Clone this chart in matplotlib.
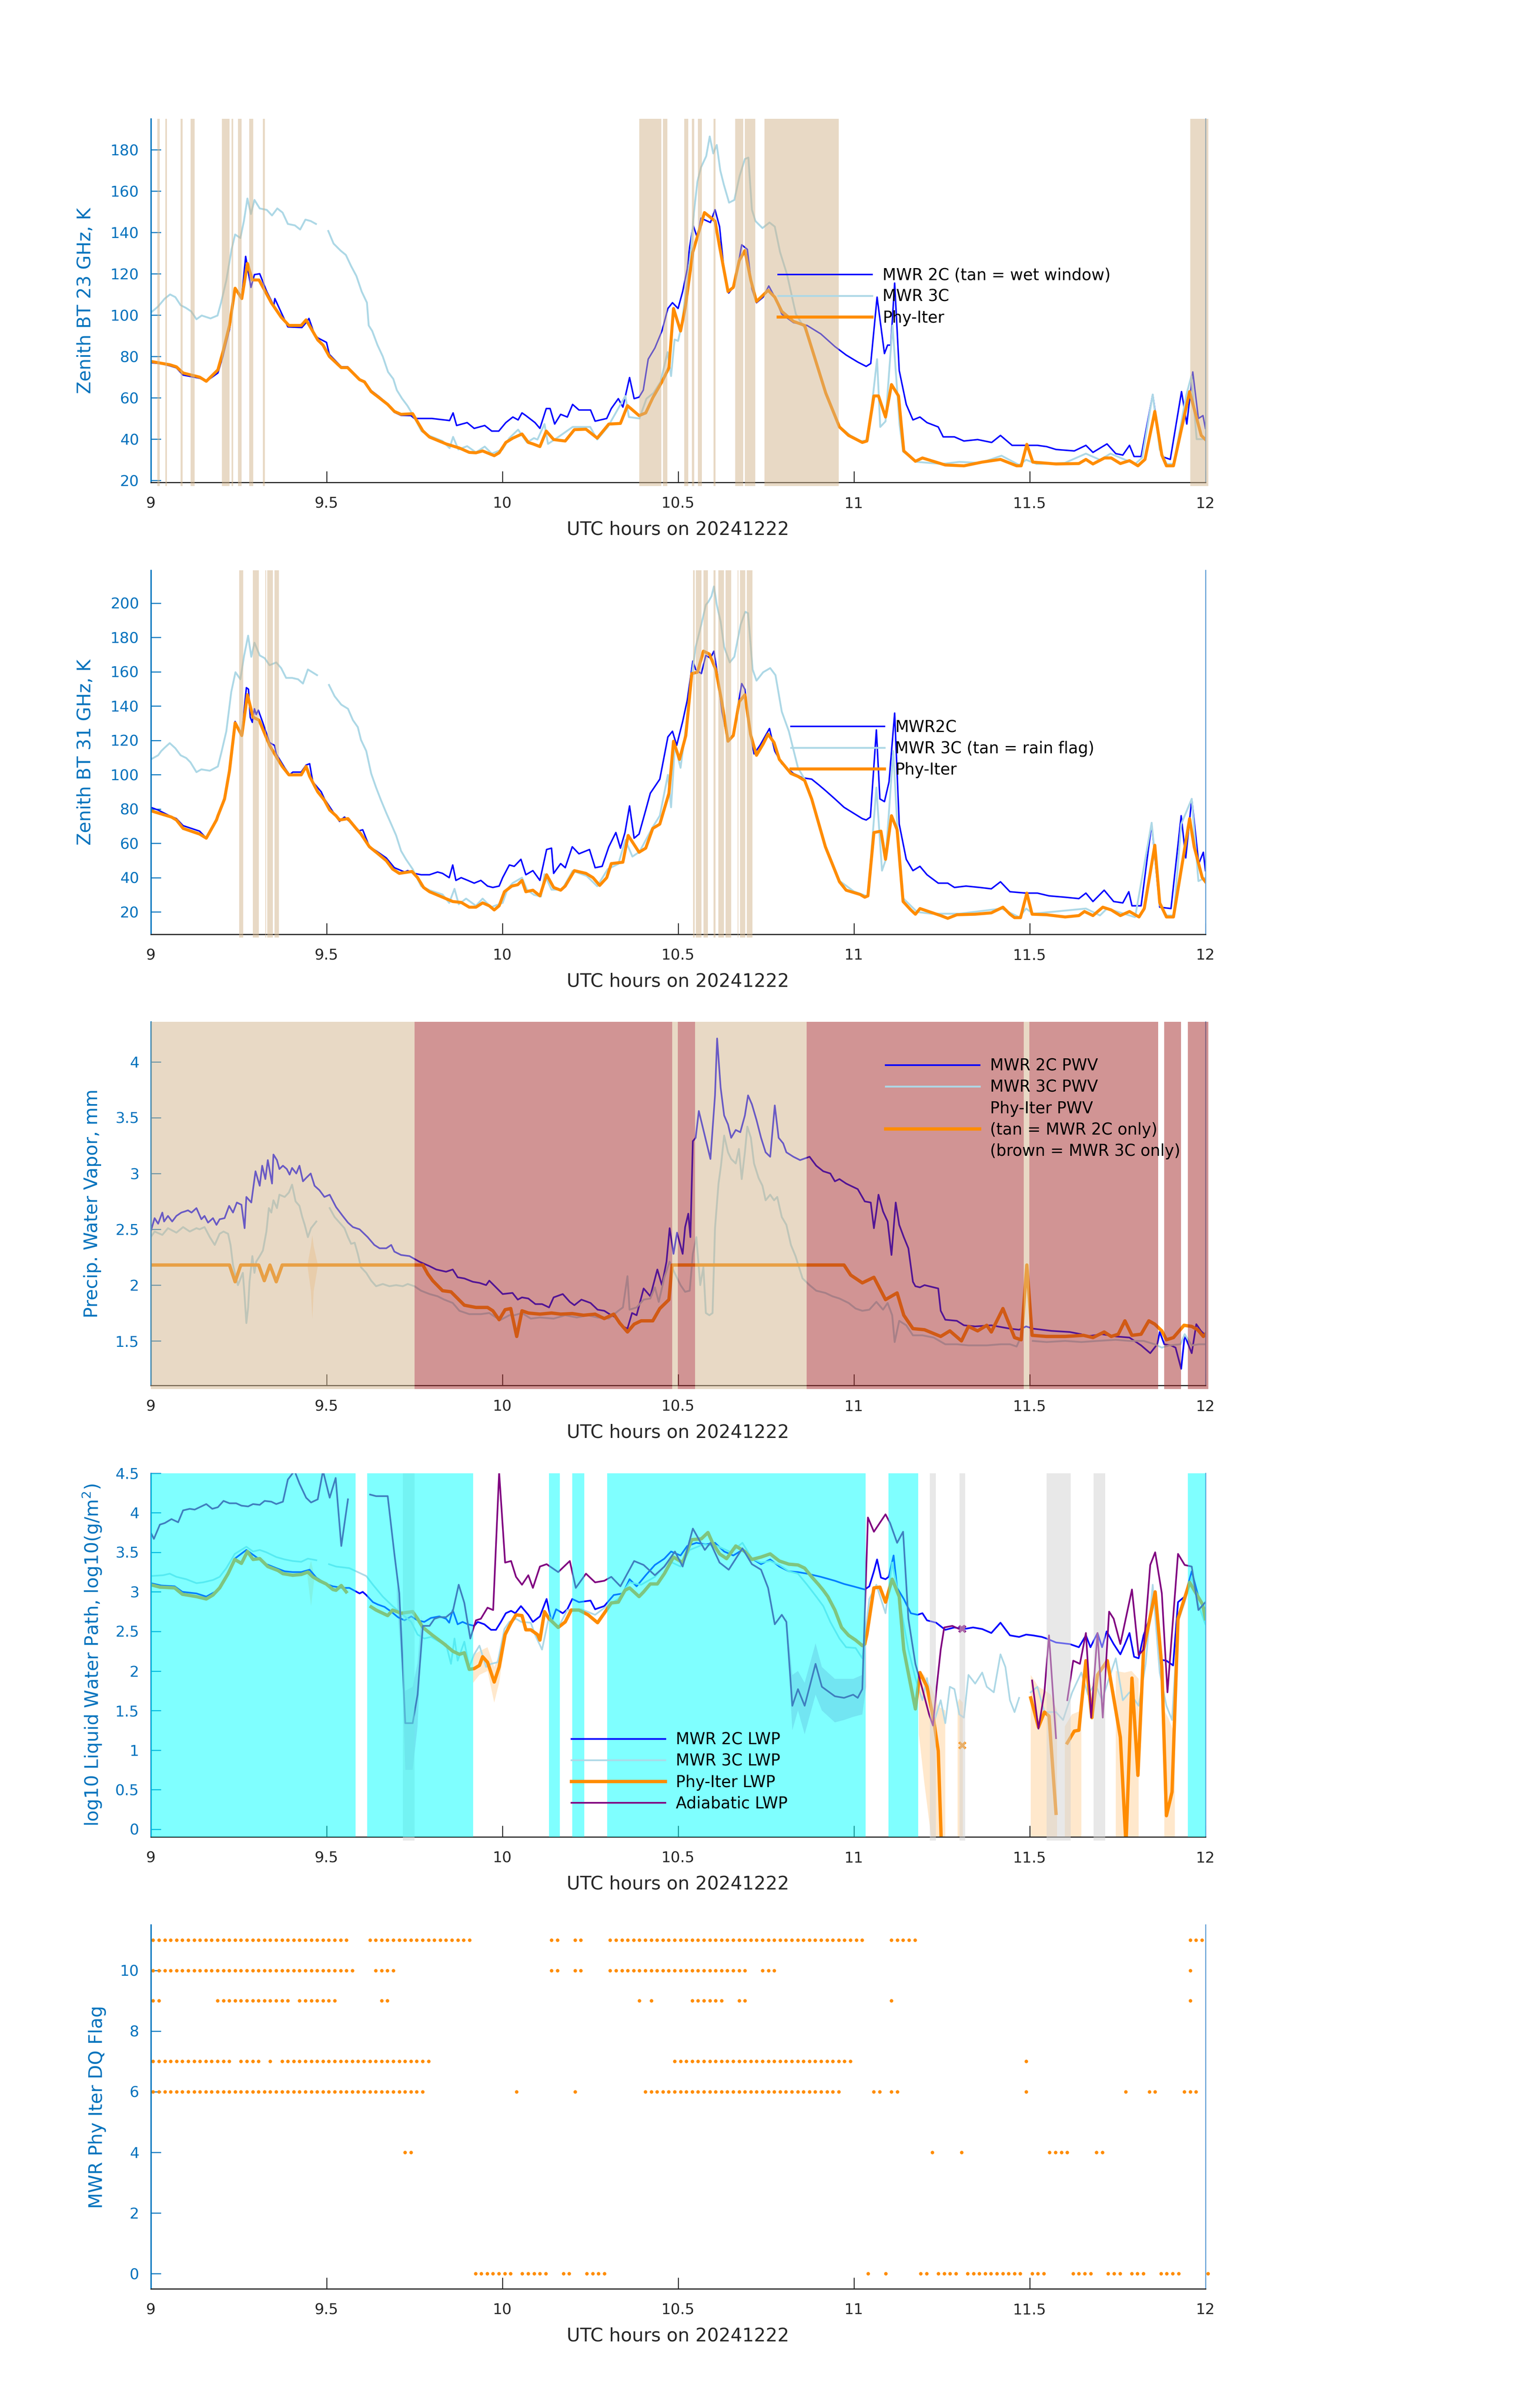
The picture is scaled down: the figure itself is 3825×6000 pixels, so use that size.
import numpy as np
import matplotlib
matplotlib.use("Agg")
import matplotlib.pyplot as plt
from matplotlib.lines import Line2D

nan = np.nan

# shared x axis
xticks = [9, 9.5, 10, 10.5, 11, 11.5, 12]
xticklabels = ["9", "9.5", "10", "10.5", "11", "11.5", "12"]
xlabel_text = "UTC hours on 20241222"

# ---------------- panel 1: zenith BT 23 GHz (hour, K)
bt23_2c = [(9.0,77),(9.03,76.5),(9.054,75.5),(9.073,74.5),(9.092,71),(9.139,69.5),(9.158,68),(9.191,72),(9.205,80),(9.224,93),
    (9.24,113),(9.259,109),(9.27,128.4),(9.285,113.4),(9.295,119.6),(9.31,120),(9.33,111.4),(9.35,104.6),(9.353,108),(9.39,94.3),
    (9.43,94),(9.445,97),(9.45,98.4),(9.465,91),(9.475,89),(9.5,86.8),(9.508,81),(9.542,75),(9.56,75),(9.594,69),
    (9.608,68),(9.627,63.5),(9.65,60.5),(9.674,57),(9.693,53),(9.712,51.5),(9.74,51.4),(9.75,50),(9.8,50),(9.85,49),
    (9.86,52.7),(9.87,46.6),(9.9,48),(9.92,45.2),(9.95,46.6),(9.97,43.9),(9.99,43.9),(10.01,48),(10.03,50.7),(10.045,49.3),
    (10.056,52.7),(10.067,51.4),(10.093,48),(10.107,45.2),(10.125,54.8),(10.136,54.8),(10.149,47.3),(10.166,52),(10.185,50.7),(10.2,56.8),
    (10.218,54.1),(10.251,54.1),(10.264,48.7),(10.297,50),(10.31,54.8),(10.33,59.6),(10.343,55.5),(10.362,69.8),(10.375,59.6),(10.389,60.3),
    (10.401,63.7),(10.415,78.7),(10.434,84.1),(10.454,92.3),(10.471,103.2),(10.484,106),(10.5,103.2),(10.513,111.4),(10.526,122.3),(10.533,133.2),
    (10.543,143.4),(10.555,137.3),(10.565,146.9),(10.592,144.8),(10.605,151),(10.618,142.8),(10.631,121),(10.644,110.7),(10.66,114.1),(10.681,134),
    (10.697,131.8),(10.71,112.7),(10.723,106),(10.742,108.7),(10.758,114.1),(10.775,108.7),(10.795,100.5),(10.828,96.4),(10.867,95),(10.906,90.9),
    (10.946,84.8),(10.978,80.7),(11.011,77.3),(11.035,75.2),(11.048,76.6),(11.066,108.7),(11.087,81.4),(11.096,85.5),(11.105,85.5),(11.116,115.5),
    (11.129,73.2),(11.149,56.8),(11.168,49.3),(11.188,50.7),(11.208,48),(11.24,45.9),(11.254,41.1),(11.286,41.1),(11.313,39.1),(11.352,39.8),
    (11.392,38.4),(11.417,41.8),(11.45,37),(11.483,37),(11.522,37),(11.548,36.4),(11.575,35),(11.627,34.3),(11.66,37),(11.68,33.6),
    (11.72,37.7),(11.745,33),(11.765,32.3),(11.784,37),(11.797,31.6),(11.817,31.6),(11.85,61.6),(11.876,31.6),(11.9,30.2),(11.932,63),
    (11.947,47.3),(11.964,72.5),(11.98,50),(11.993,51.4),(12.0,45.2)]
bt23_3c = [(9.0,101.2),(9.02,104),(9.04,108),(9.055,110),(9.07,108.7),(9.085,104.8),(9.1,103.5),(9.115,101.8),(9.13,98),(9.145,99.8),
    (9.17,98.4),(9.19,99.8),(9.2,106),(9.215,116.8),(9.23,131.8),(9.24,139),(9.255,137.3),(9.265,145.5),(9.275,156.4),(9.285,148.9),
    (9.295,155.7),(9.31,151.6),(9.33,150.9),(9.345,148.2),(9.36,151.6),(9.375,149.6),(9.39,144.1),(9.41,143.4),(9.425,141.4),(9.44,146.2),
    (9.455,145.5),(9.47,144.1),(9.49,nan),(9.505,140.7),(9.52,134.6),(9.54,131.2),(9.555,129.1),(9.57,123.7),(9.585,118.9),(9.6,111.4),
    (9.615,106),(9.62,95),(9.63,92.3),(9.645,85.5),(9.66,80),(9.675,72.5),(9.69,69.1),(9.7,63.7),(9.715,59.6),(9.73,56.2),
    (9.745,52),(9.77,43.9),(9.79,41.8),(9.83,39.1),(9.85,35.7),(9.86,41.1),(9.875,35),(9.9,36.6),(9.925,33.6),(9.95,36.4),
    (9.97,33),(10.0,35),(10.02,40.5),(10.045,44.6),(10.07,38.4),(10.09,40.5),(10.1,39.8),(10.12,47.3),(10.13,37.7),(10.16,41.1),
    (10.2,45.9),(10.25,45.9),(10.27,39.8),(10.3,45.9),(10.35,60.9),(10.36,50.7),(10.39,50),(10.41,59.6),(10.43,62.3),(10.45,67.7),
    (10.47,82.1),(10.48,70.5),(10.49,88.2),(10.5,87.5),(10.51,95),(10.52,108.7),(10.535,127.8),(10.545,149.6),(10.555,164.6),(10.565,171.4),
    (10.58,176.9),(10.59,186.4),(10.6,178.2),(10.61,182.3),(10.62,170),(10.63,163.2),(10.645,154.4),(10.66,155.7),(10.675,167.3),(10.69,175.5),
    (10.7,176.2),(10.71,151),(10.72,145.5),(10.74,142.1),(10.76,144.8),(10.775,142.8),(10.79,130.5),(10.81,119.6),(10.835,100.5),(10.86,93.7),
    (10.88,84),(10.92,62),(10.96,46),(10.99,41.8),(11.02,39),(11.04,39.5),(11.066,78.7),(11.075,45.9),(11.09,48.6),(11.11,95),
    (11.13,47),(11.14,34),(11.18,29),(11.25,28),(11.3,29),(11.36,28.5),(11.42,32),(11.47,27.5),(11.49,30),(11.52,28),
    (11.6,28.5),(11.66,33),(11.7,30),(11.73,33),(11.8,28),(11.82,31),(11.85,61.6),(11.87,35),(11.89,28),(11.91,28),
    (11.945,61),(11.96,70.5),(11.975,40),(12.0,40)]
bt23_phy = [(9.0,77.6),(9.054,76),(9.073,75),(9.092,72),(9.139,70),(9.158,68),(9.191,73.5),(9.205,82),(9.224,95),(9.24,113),
    (9.259,108),(9.275,125),(9.289,117),(9.308,117),(9.343,106),(9.371,99),(9.393,95),(9.428,95),(9.442,97.7),(9.475,88),
    (9.49,85.5),(9.508,80),(9.542,74.6),(9.56,74.6),(9.594,68.8),(9.608,67.7),(9.627,63),(9.65,60),(9.674,56.8),(9.693,53.4),
    (9.712,52),(9.745,52.3),(9.774,44),(9.793,41),(9.84,37.7),(9.878,35.7),(9.906,33.6),(9.925,33.4),(9.944,34.3),(9.977,32),
    (9.991,33.4),(10.01,38.4),(10.03,40.5),(10.056,42.5),(10.074,38.4),(10.087,37.7),(10.107,36.4),(10.125,43.9),(10.146,39.8),(10.179,39.1),
    (10.205,44.6),(10.238,44.8),(10.27,40.5),(10.303,47.3),(10.336,47.6),(10.356,56.2),(10.389,51.4),(10.408,52.7),(10.428,60),(10.454,67.7),
    (10.474,74.6),(10.487,103.2),(10.507,92.3),(10.52,103.2),(10.542,130.5),(10.575,149.6),(10.605,145.5),(10.618,133.2),(10.642,111.4),(10.657,113.4),
    (10.674,126.4),(10.69,131.2),(10.707,116.8),(10.723,106.6),(10.756,112),(10.775,108.7),(10.795,101.8),(10.828,97),(10.86,95),(10.88,84.1),
    (10.92,62.3),(10.959,45.9),(10.985,41.8),(11.024,38.4),(11.037,39.1),(11.057,60.9),(11.07,60.9),(11.09,50.7),(11.107,66.4),(11.127,60.9),
    (11.142,34.3),(11.175,29.3),(11.195,30.9),(11.26,27.5),(11.313,27.1),(11.365,28.9),(11.417,30.2),(11.463,27.1),(11.476,27.1),(11.492,37.5),
    (11.509,28.9),(11.575,28),(11.64,28.2),(11.66,30.2),(11.68,28),(11.713,30.9),(11.732,30.9),(11.758,28.2),(11.784,29.6),(11.808,27.1),
    (11.828,30.2),(11.856,53.4),(11.876,32.3),(11.889,27.1),(11.909,27.1),(11.955,63),(11.988,41.8),(12.0,39.8)]
wet_windows = [(9.019,9.025),(9.042,9.046),(9.085,9.091),(9.114,9.125),(9.203,9.224),(9.23,9.234),(9.248,9.258),(9.28,9.292),
    (9.319,9.325),(10.39,10.452),(10.457,10.469),(10.518,10.529),(10.539,10.546),(10.556,10.568),(10.601,10.606),(10.663,10.685),
    (10.69,10.719),(10.746,10.957),(11.957,12.008)]

# ---------------- panel 2: zenith BT 31 GHz
bt31_2c = [(9.0,81),(9.021,79.4),(9.054,76),(9.073,74.4),(9.092,70.3),(9.139,67.1),(9.158,63),(9.191,76),(9.21,87),(9.224,103),
    (9.24,131),(9.259,123.6),(9.272,150.7),(9.278,149.8),(9.283,133.5),(9.289,130.5),(9.295,138.4),(9.3,135.1),(9.306,137.6),(9.319,130.2),
    (9.338,118.7),(9.352,117.1),(9.357,112.1),(9.381,104),(9.395,99.9),(9.404,101.5),(9.428,101.5),(9.442,105.6),(9.452,106.4),(9.461,95.8),
    (9.485,90),(9.494,85.9),(9.518,78.5),(9.537,72.8),(9.551,75.3),(9.565,72.8),(9.589,67.1),(9.603,67.9),(9.622,58),(9.641,55.6),
    (9.67,51.5),(9.693,45.8),(9.722,43.3),(9.731,44.1),(9.75,42.5),(9.769,41.7),(9.793,41.7),(9.816,43.3),(9.83,42.5),(9.849,40),
    (9.859,47.4),(9.868,38.4),(9.883,40),(9.902,38.4),(9.92,36.8),(9.939,38.4),(9.958,35.1),(9.973,34.3),(9.991,35.1),(10.001,40),
    (10.02,47.4),(10.034,46.6),(10.053,50.7),
    (10.067,41.7),(10.087,44.1),(10.107,38.4),(10.126,56.4),(10.14,57.2),(10.146,42.5),(10.166,48.2),(10.179,45.8),(10.199,58),(10.218,53.9),
    (10.248,56.4),(10.264,45.8),(10.284,46.6),(10.303,58),(10.323,66.3),(10.336,57.2),(10.349,66.3),(10.362,81.8),(10.375,63),(10.389,65.4),
    (10.408,79.4),(10.421,89.2),(10.448,97.4),(10.471,122),(10.484,125.3),(10.496,117.1),(10.513,131),(10.526,143.3),(10.542,166.2),(10.55,161.3),
    (10.566,158.9),(10.579,169.5),(10.592,167.9),(10.602,172),(10.611,159.7),(10.625,136.7),(10.642,119.5),(10.657,123.6),(10.681,153.1),(10.69,149.8),
    (10.703,126.9),(10.716,112.1),(10.733,117.1),(10.76,126.9),(10.775,113.8),(10.795,106.4),(10.828,100.7),(10.854,98.2),(10.88,97.4),(10.9,94.1),
    (10.919,90.8),(10.946,85.9),(10.972,81),(10.998,77.7),(11.024,74.4),(11.035,73.6),(11.047,75.3),(11.064,126.1),(11.074,85.9),(11.087,84.3),
    (11.1,95.8),(11.116,135.9),(11.129,71.2),(11.149,50.7),(11.168,44.1),(11.188,46.6),(11.208,41.7),(11.24,36.8),(11.267,36.8),(11.286,34.3),
    (11.319,35.1),(11.358,34.3),(11.391,33.5),(11.417,37.6),(11.444,31.8),(11.49,31),(11.522,31),(11.555,29.4),(11.601,28.6),(11.64,27.8),
    (11.66,31),(11.68,26.1),(11.712,32.7),(11.739,26.1),(11.765,25.3),(11.782,31.8),(11.791,23.6),(11.817,23.6),(11.847,71.2),(11.87,22.8),
    (11.902,22),(11.931,76.1),(11.944,51.5),(11.961,85.9),(11.981,48.2),(11.994,54.8),(12.0,44.1)]
bt31_3c = [(9.0,108.9),(9.021,111.3),(9.03,113.8),(9.04,115.8),(9.054,118.4),(9.07,115.4),(9.085,111.3),(9.101,109.7),(9.113,107.2),(9.13,101.5),
    (9.144,103.1),(9.168,102.3),(9.191,104.8),(9.201,113),(9.215,125.3),(9.229,148.2),(9.241,159.7),(9.255,155.6),(9.265,168.7),(9.277,181),
    (9.286,168.7),(9.295,176.9),(9.31,169.5),(9.324,167.9),(9.338,163.8),(9.357,165.4),(9.371,162.1),(9.385,156.4),(9.402,156.4),(9.419,155.6),
    (9.433,153.1),(9.447,161.3),(9.473,158),(9.49,nan),(9.507,152.3),(9.523,145.7),(9.542,140.8),(9.561,138.4),(9.575,131.8),(9.589,127.7),
    (9.598,120.3),(9.613,113.8),(9.627,100.7),(9.641,92.5),(9.655,85.1),(9.67,77.7),(9.684,71.2),(9.698,64.6),(9.712,55.6),(9.726,50.7),
    (9.745,45),(9.769,35.1),(9.793,32.7),(9.83,30.2),(9.849,25.3),(9.864,33.5),(9.876,24.5),(9.897,27.8),(9.925,23.6),(9.944,27.8),
    (9.968,22.8),(10.001,25.3),(10.015,33.5),(10.029,36.8),(10.056,40),
    (10.07,33),(10.09,30),(10.11,29),(10.12,42),(10.14,33),(10.17,33),(10.2,44),(10.24,41),(10.27,35),(10.3,45),
    (10.33,48),(10.35,62),(10.37,52.3),(10.39,55),(10.428,69.5),(10.448,76.1),(10.471,99.9),(10.48,81),(10.491,117.1),(10.507,104),
    (10.524,130.2),(10.537,154.8),(10.55,174.4),(10.566,187.5),(10.579,199),(10.586,200.7),(10.595,204),(10.602,209.7),(10.61,199),(10.621,189.2),
    (10.631,174.4),(10.647,165.4),(10.66,168.7),(10.678,187.5),(10.691,194.9),(10.699,194.1),(10.712,161.3),(10.723,154.8),(10.742,159.7),(10.762,162.1),
    (10.777,158),(10.795,136.7),(10.815,125.3),(10.841,104),(10.86,97.4),(10.88,86),(10.92,58),(10.96,38),(11.0,32),(11.04,29),
    (11.064,92.5),(11.08,44.1),(11.09,50),(11.112,113.8),(11.125,64.6),(11.14,28),(11.18,20),(11.22,19),(11.3,19),(11.42,22),
    (11.47,17),(11.49,22),(11.51,19),(11.66,22),(11.7,18),(11.72,22),(11.8,17),(11.847,72),(11.87,24),(11.89,18),
    (11.91,18),(11.931,71.2),(11.961,85.9),(11.98,38),(12.0,40)]
bt31_phy = [(9.0,79),(9.059,75.3),(9.073,73.6),(9.092,68.7),(9.139,65.4),(9.158,63),(9.187,73.6),(9.191,76),(9.21,85.9),(9.224,102.3),
    (9.24,130.2),(9.259,122.8),(9.275,146.6),(9.291,133.5),(9.308,131.8),(9.338,117.1),(9.357,110.5),(9.374,104.8),(9.393,99.9),(9.428,99.9),
    (9.442,104.8),(9.452,99),(9.475,90),(9.494,85.1),(9.509,79.4),(9.527,76.1),(9.537,73.6),(9.561,74.4),(9.584,68.7),(9.598,65.4),
    (9.622,58),(9.646,54),(9.67,49.9),(9.688,45),(9.707,42.5),(9.743,43.6),(9.759,40),(9.776,34.3),(9.793,31.8),(9.821,29.4),
    (9.859,26.1),(9.883,25.6),(9.906,22.8),(9.925,22.8),(9.944,25.3),(9.963,23.6),(9.977,21.2),(9.991,23.6),(10.006,31.8),(10.027,35.1),
    (10.044,35.9),(10.056,38.4),
    (10.067,31.8),(10.087,32.7),(10.107,29.4),(10.126,41.7),(10.146,34.3),(10.166,32.7),(10.179,35.1),(10.205,44.1),(10.238,42.5),(10.258,40),
    (10.277,35.5),(10.297,40),(10.31,48.2),(10.343,49),(10.358,64.6),(10.389,54.8),(10.408,57.2),(10.428,68.7),(10.448,71.2),(10.474,89.2),
    (10.487,119.5),(10.504,108.9),(10.522,122.8),(10.539,158.9),(10.555,159.7),(10.572,172),(10.589,170.3),(10.607,161.3),(10.625,141.7),(10.642,119.5),
    (10.657,122.8),(10.674,142.5),(10.69,146.6),(10.706,123.6),(10.723,111.3),(10.742,117.9),(10.756,123.6),(10.773,118.7),(10.788,108.9),(10.821,100.7),
    (10.841,99),(10.86,96.6),(10.88,85.9),(10.919,58),(10.959,37.6),(10.978,32.7),(11.018,30.2),(11.031,28.6),(11.04,29.4),(11.057,66.3),
    (11.077,67.1),(11.09,50.7),(11.107,76.1),(11.123,67.9),(11.14,26.1),(11.162,21.2),(11.175,18.7),(11.188,22),(11.247,17.9),(11.267,16.3),
    (11.293,18.4),(11.345,18.7),(11.391,19.5),(11.424,22.8),(11.444,18.7),(11.457,16.7),(11.474,16.7),(11.492,31),(11.507,18.7),(11.548,18.4),
    (11.601,17.1),(11.64,17.9),(11.656,20.3),(11.68,17.9),(11.708,22.8),(11.732,21.2),(11.758,17.9),(11.784,20.3),(11.811,17.1),(11.826,22),
    (11.856,58.9),(11.87,25.3),(11.889,17.1),(11.909,17.1),(11.955,74.4),(11.968,58),(11.991,40),(12.0,37.6)]
rain_flags = [(9.252,9.263),(9.29,9.307),(9.326,9.328),(9.331,9.348),(9.352,9.365),(10.543,10.547),(10.551,10.567),(10.572,10.585),
    (10.601,10.607),(10.614,10.63),(10.635,10.651),(10.669,10.672),(10.676,10.691),(10.695,10.712)]

# ---------------- panel 3: precipitable water vapour (mm)
pwv_2c = [(9.0,2.48),(9.011,2.6),(9.021,2.55),(9.033,2.65),(9.038,2.57),(9.049,2.62),(9.061,2.57),(9.073,2.62),(9.087,2.65),(9.097,2.66),
    (9.106,2.67),(9.116,2.65),(9.13,2.69),(9.144,2.59),(9.153,2.62),(9.163,2.56),(9.177,2.6),(9.187,2.54),(9.196,2.59),(9.21,2.6),
    (9.223,2.71),(9.234,2.65),(9.245,2.74),(9.258,2.72),(9.267,2.51),(9.272,2.79),(9.286,2.74),(9.298,3.02),(9.31,2.89),(9.317,3.07),
    (9.326,2.95),(9.333,3.12),(9.345,2.91),(9.349,3.17),(9.359,3.12),(9.366,3.04),(9.376,3.07),(9.387,3.04),(9.395,2.99),(9.402,3.05),
    (9.414,3.0),(9.423,3.07),(9.433,2.93),(9.442,2.96),(9.455,3.0),(9.466,2.89),(9.48,2.85),(9.494,2.79),(9.509,2.81),(9.527,2.7),
    (9.546,2.62),(9.561,2.56),(9.575,2.52),(9.594,2.5),(9.617,2.43),(9.636,2.36),(9.651,2.33),(9.67,2.33),(9.684,2.36),(9.693,2.3),
    (9.712,2.27),(9.736,2.26),(9.764,2.21),(9.793,2.17),(9.812,2.14),(9.84,2.12),(9.859,2.14),(9.873,2.07),(9.892,2.06),(9.916,2.03),
    (9.935,2.02),(9.954,2.0),(9.963,2.04),(9.982,1.98),(10.001,1.92),(10.029,1.93),(10.044,1.87),(10.056,1.89),
    (10.074,1.88),(10.094,1.83),(10.113,1.83),(10.133,1.8),(10.146,1.89),(10.172,1.92),(10.192,1.85),(10.205,1.82),(10.225,1.87),(10.251,1.84),
    (10.271,1.78),(10.29,1.77),(10.31,1.73),(10.323,1.71),(10.343,1.63),(10.356,1.61),(10.369,1.75),(10.382,1.73),(10.402,1.97),(10.421,1.9),
    (10.441,2.14),(10.454,2.0),(10.467,2.21),(10.476,2.51),(10.487,2.28),(10.497,2.47),(10.513,2.28),(10.52,2.52),(10.529,2.64),(10.535,2.43),
    (10.542,3.29),(10.55,3.32),(10.559,3.56),(10.572,3.39),(10.592,3.13),(10.605,3.7),(10.611,4.21),(10.621,3.77),(10.631,3.52),(10.642,3.44),
    (10.651,3.32),(10.664,3.39),(10.677,3.37),(10.69,3.52),(10.699,3.7),(10.71,3.62),(10.723,3.48),(10.736,3.32),(10.749,3.19),(10.762,3.15),
    (10.775,3.61),(10.786,3.32),(10.799,3.27),(10.808,3.19),(10.828,3.15),(10.847,3.12),(10.874,3.15),(10.893,3.07),(10.913,3.02),(10.933,3.0),
    (10.946,2.93),(10.959,2.95),(10.978,2.91),(10.991,2.89),(11.011,2.86),(11.031,2.75),(11.048,2.74),(11.057,2.51),(11.064,2.66),(11.07,2.81),
    (11.083,2.66),(11.096,2.57),(11.107,2.27),(11.119,2.74),(11.129,2.54),(11.142,2.43),(11.155,2.33),(11.168,2.03),(11.175,1.99),(11.188,1.98),
    (11.201,2.0),(11.214,1.99),(11.227,1.98),(11.24,1.97),(11.247,1.77),(11.26,1.69),(11.293,1.68),(11.313,1.64),(11.345,1.63),(11.391,1.64),
    (11.444,1.61),(11.47,1.6),(11.49,1.63),(11.509,1.61),(11.562,1.59),(11.614,1.58),(11.647,1.56),(11.66,1.54),(11.706,1.56),(11.745,1.54),
    (11.784,1.53),(11.817,1.46),(11.843,1.39),(11.863,1.47),(11.87,1.58),(11.883,1.47),(11.902,1.46),(11.915,1.44),(11.931,1.25),(11.941,1.55),
    (11.961,1.39),(11.974,1.65),(11.987,1.59),(12.0,1.55)]
pwv_3c = [(9.0,2.43),(9.011,2.48),(9.033,2.45),(9.049,2.51),(9.073,2.47),(9.092,2.52),(9.111,2.48),(9.13,2.51),(9.139,2.5),(9.153,2.52),
    (9.168,2.43),(9.182,2.36),(9.196,2.46),(9.207,2.48),(9.22,2.46),(9.227,2.36),(9.234,2.18),(9.248,2.0),(9.262,2.11),(9.267,1.9),
    (9.272,1.66),(9.277,1.8),(9.281,2.03),(9.289,2.26),(9.295,2.11),(9.3,2.21),(9.31,2.26),(9.319,2.31),(9.329,2.48),(9.336,2.69),
    (9.343,2.65),(9.349,2.76),(9.359,2.69),(9.366,2.81),(9.381,2.79),(9.393,2.83),(9.402,2.9),(9.412,2.75),(9.423,2.71),(9.431,2.61),
    (9.438,2.54),(9.447,2.43),(9.456,2.51),(9.471,2.57),(9.49,nan),(9.509,2.69),(9.523,2.61),(9.537,2.56),(9.551,2.51),(9.561,2.43),
    (9.57,2.37),(9.58,2.38),(9.589,2.28),(9.598,2.16),(9.613,2.11),(9.627,2.04),(9.641,1.99),(9.66,2.01),(9.679,1.99),(9.698,2.0),
    (9.717,1.99),(9.731,2.01),(9.75,1.99),(9.769,1.95),(9.793,1.92),(9.816,1.9),(9.835,1.87),(9.859,1.84),(9.878,1.77),(9.906,1.74),
    (9.939,1.74),(9.963,1.75),(9.982,1.71),(9.996,1.69),(10.02,1.73),(10.034,1.73),(10.056,1.75),
    (10.081,1.7),(10.107,1.71),(10.146,1.7),(10.179,1.73),(10.212,1.71),(10.244,1.73),(10.271,1.71),(10.303,1.7),(10.33,1.77),(10.343,1.8),
    (10.356,2.08),(10.362,1.78),(10.382,1.8),(10.402,1.87),(10.421,1.88),(10.434,1.98),(10.445,1.85),(10.461,2.07),(10.476,2.21),(10.487,2.13),
    (10.507,2.0),(10.52,1.94),(10.533,1.95),(10.542,2.28),(10.552,2.43),(10.563,2.0),(10.572,2.16),(10.579,1.75),(10.589,1.73),(10.598,1.75),
    (10.605,2.51),(10.615,2.91),(10.622,3.07),(10.631,3.34),(10.642,3.19),(10.651,3.13),(10.664,3.09),(10.673,3.22),(10.681,2.95),(10.69,3.19),
    (10.697,3.42),(10.707,3.32),(10.716,3.09),(10.729,2.96),(10.74,2.89),(10.749,2.76),(10.762,2.81),(10.773,2.76),(10.782,2.79),(10.795,2.61),
    (10.808,2.54),(10.821,2.36),(10.834,2.26),(10.854,2.06),(10.874,2.0),(10.893,1.95),(10.919,1.93),(10.939,1.9),(10.959,1.88),(10.985,1.84),
    (11.005,1.79),(11.024,1.77),(11.044,1.78),(11.064,1.85),(11.083,1.78),(11.096,1.84),(11.109,1.73),(11.116,1.49),(11.129,1.68),(11.149,1.64),
    (11.168,1.55),(11.195,1.55),(11.227,1.53),(11.26,1.47),(11.293,1.47),(11.326,1.46),(11.378,1.46),(11.417,1.47),(11.444,1.47),(11.463,1.45),
    (11.47,1.5),(11.49,nan),(11.509,1.5),(11.548,1.49),(11.601,1.5),(11.647,1.49),(11.693,1.5),(11.745,1.51),(11.784,1.5),(11.824,1.5),
    (11.856,1.47),(11.876,1.44),(11.896,1.46),(11.929,1.47),(11.941,1.56),(11.961,1.46),(11.981,1.47),(12.0,1.47)]
pwv_phy = [(9.0,2.18),(9.224,2.18),(9.24,2.03),(9.256,2.18),(9.307,2.18),(9.323,2.04),(9.339,2.18),(9.357,2.03),(9.374,2.18),(9.774,2.18),
    (9.788,2.1),(9.802,2.04),(9.83,1.95),(9.854,1.94),(9.892,1.82),(9.925,1.8),(9.958,1.8),(9.973,1.77),(9.991,1.69),(10.008,1.78),
    (10.024,1.79),(10.041,1.54),(10.056,1.77),(10.074,1.75),(10.107,1.74),(10.14,1.75),(10.166,1.74),(10.199,1.745),(10.231,1.73),(10.264,1.74),
    (10.29,1.7),(10.317,1.74),(10.334,1.66),(10.356,1.58),(10.375,1.65),(10.395,1.68),(10.428,1.68),(10.448,1.79),(10.474,1.87),(10.483,2.18),
    (10.972,2.18),(10.991,2.09),(11.024,2.02),(11.057,2.07),(11.09,1.87),(11.123,1.93),(11.142,1.73),(11.168,1.61),(11.201,1.6),(11.247,1.54),
    (11.273,1.59),(11.306,1.5),(11.326,1.63),(11.352,1.59),(11.378,1.64),(11.391,1.58),(11.424,1.79),(11.457,1.53),(11.476,1.51),(11.492,2.18),
    (11.507,1.55),(11.548,1.54),(11.601,1.54),(11.653,1.55),(11.68,1.53),(11.712,1.58),(11.732,1.54),(11.752,1.56),(11.771,1.68),(11.791,1.55),
    (11.817,1.56),(11.839,1.68),(11.856,1.65),(11.876,1.59),(11.889,1.51),(11.909,1.53),(11.939,1.64),(11.961,1.63),(11.978,1.6),(11.994,1.54),(12.0,1.56)]
# uncertainty on the Phy-Iter PWV (hour, low, high)
pwv_phy_band = [(9.445,2.18,2.18),(9.455,1.95,2.35),(9.459,1.7,2.45),(9.463,1.95,2.35),(9.475,2.18,2.18)]
pwv_2c_only = [(9.0,9.75),(10.483,10.499),(10.548,10.866),(11.483,11.499)]
pwv_3c_only = [(9.75,10.483),(10.499,10.548),(10.866,11.483),(11.499,11.866),(11.883,11.931),(11.95,12.008)]

# ---------------- panel 4: log10 liquid water path
lwp_2c = [(9.0,3.11),(9.03,3.08),(9.068,3.07),(9.09,3.0),(9.13,2.98),(9.158,2.94),(9.191,3.02),(9.215,3.18),(9.239,3.42),(9.272,3.53),
    (9.3,3.44),(9.329,3.35),(9.357,3.3),(9.381,3.26),(9.404,3.25),(9.428,3.25),(9.452,3.28),(9.471,3.18),(9.499,3.1),(9.518,3.07),
    (9.546,3.05),(9.565,3.05),(9.594,2.98),(9.603,3.0),(9.613,2.96),(9.632,2.87),(9.646,2.84),(9.665,2.81),(9.684,2.75),(9.703,2.68),
    (9.722,2.64),(9.741,2.69),(9.759,2.64),(9.778,2.62),(9.797,2.67),(9.821,2.69),(9.84,2.66),(9.849,2.61),(9.859,2.77),(9.873,2.59),
    (9.887,2.62),(9.902,2.59),(9.92,2.57),(9.93,2.62),(9.949,2.59),(9.968,2.52),(9.982,2.52),(9.996,2.62),(10.01,2.73),(10.025,2.76),
    (10.037,2.73),(10.053,2.82),
    (10.074,2.71),(10.087,2.62),(10.107,2.69),(10.126,2.91),(10.14,2.62),(10.153,2.78),(10.172,2.73),(10.185,2.78),(10.199,2.91),(10.218,2.87),
    (10.251,2.89),(10.264,2.78),(10.29,2.82),(10.317,2.96),(10.343,2.98),(10.362,3.16),(10.382,3.07),(10.408,3.21),(10.434,3.34),(10.461,3.42),
    (10.48,3.51),(10.507,3.46),(10.526,3.58),(10.552,3.62),(10.579,3.6),(10.605,3.62),(10.631,3.51),(10.657,3.46),(10.683,3.53),(10.71,3.42),
    (10.736,3.35),(10.762,3.41),(10.788,3.32),(10.815,3.26),(10.841,3.25),(10.867,3.23),(10.906,3.19),(10.946,3.14),(10.972,3.1),(10.998,3.07),
    (11.031,3.03),(11.044,3.07),(11.057,3.26),(11.066,3.41),(11.077,3.18),(11.09,3.16),(11.099,3.19),(11.113,3.46),(11.123,3.05),(11.142,2.91),
    (11.162,2.73),(11.181,2.71),(11.195,2.73),(11.208,2.64),(11.234,2.61),(11.26,2.52),(11.286,2.55),(11.313,2.53),(11.339,2.55),(11.365,2.53),
    (11.391,2.48),(11.417,2.61),(11.444,2.45),(11.47,2.43),(11.49,2.46),(11.509,2.45),(11.535,2.43),(11.548,2.41),(11.575,2.36),(11.614,2.34),
    (11.64,2.3),(11.66,2.45),(11.673,2.3),(11.693,2.48),(11.706,2.3),(11.719,2.5),(11.739,2.34),(11.758,2.21),(11.771,2.34),(11.784,2.48),
    (11.797,2.18),(11.81,2.16),(11.824,2.45),(11.843,2.69),(11.857,2.98),(11.876,2.14),(11.889,2.13),(11.908,2.07),(11.922,2.87),(11.941,2.94),
    (11.961,3.26),(11.98,2.94),(12.0,2.77)]
lwp_3c = [(9.0,3.2),(9.035,3.21),(9.054,3.23),(9.073,3.19),(9.101,3.16),(9.13,3.11),(9.149,3.12),(9.177,3.15),(9.196,3.19),(9.215,3.3),
    (9.239,3.48),(9.272,3.57),(9.291,3.51),(9.31,3.53),(9.329,3.5),(9.357,3.44),(9.381,3.41),(9.404,3.39),(9.428,3.38),(9.447,3.42),
    (9.471,3.4),(9.49,nan),(9.507,3.35),(9.527,3.32),(9.546,3.31),(9.565,3.3),(9.589,3.25),(9.613,3.2),(9.632,3.09),(9.66,2.94),
    (9.688,2.82),(9.712,2.73),(9.741,2.62),(9.759,2.46),(9.778,2.41),(9.797,2.43),(9.821,2.37),(9.84,2.34),(9.854,2.09),(9.864,2.41),
    (9.873,2.13),(9.892,2.37),(9.906,2.05),(9.92,2.21),(9.935,2.32),(9.954,2.05),(9.968,2.09),(9.987,2.11),(10.006,2.53),(10.02,2.62),
    (10.039,2.66),(10.054,2.62),(10.081,2.61),(10.094,2.45),(10.113,2.27),(10.133,2.69),(10.159,2.55),(10.185,2.77),(10.225,2.78),(10.264,2.71),
    (10.297,2.82),(10.33,2.91),(10.362,3.12),(10.395,3.09),(10.434,3.19),(10.474,3.39),(10.507,3.32),(10.533,3.53),(10.572,3.6),(10.611,3.58),
    (10.651,3.5),(10.683,3.62),(10.71,3.42),(10.736,3.37),(10.762,3.39),(10.788,3.34),(10.815,3.26),(10.841,3.23),(10.867,3.09),(10.893,2.94),
    (10.913,2.82),(10.933,2.62),(10.959,2.41),(10.978,2.3),(11.005,2.29),(11.024,2.16),(11.044,2.91),(11.064,3.09),(11.09,2.73),(11.109,3.37),
    (11.129,2.91),(11.155,2.27),(11.175,1.91),(11.195,1.63),(11.208,1.91),(11.227,1.34),(11.247,1.63),(11.26,1.34),(11.273,1.8),(11.286,1.77),
    (11.3,1.45),(11.313,1.41),(11.326,1.95),(11.345,1.84),(11.365,1.98),(11.378,1.8),(11.398,1.73),(11.417,2.21),(11.431,2.05),(11.444,1.63),
    (11.457,1.48),(11.47,1.66),(11.485,nan),(11.503,1.73),(11.522,1.8),(11.542,1.48),(11.575,1.48),(11.595,1.38),(11.621,1.73),(11.647,1.98),
    (11.666,1.7),(11.686,1.84),(11.706,1.63),(11.726,1.91),(11.745,2.16),(11.765,1.63),(11.784,1.73),(11.81,1.56),(11.83,2.09),(11.85,3.09),
    (11.87,1.98),(11.889,1.56),(11.905,1.38),(11.922,2.62),(11.941,2.87),(11.961,3.19),(11.98,2.84),(12.0,2.59)]
lwp_phy = [(9.0,3.09),(9.026,3.06),(9.068,3.05),(9.09,2.97),(9.13,2.94),(9.158,2.91),(9.177,2.96),(9.196,3.05),(9.22,3.23),(9.239,3.41),
    (9.258,3.36),(9.275,3.51),(9.291,3.41),(9.31,3.42),(9.333,3.32),(9.362,3.27),(9.376,3.23),(9.404,3.21),(9.428,3.22),(9.447,3.25),
    (9.461,3.19),(9.48,3.14),(9.499,3.1),(9.518,3.03),(9.527,3.02),(9.542,3.08),(9.556,3.0),(9.59,nan),(9.627,2.81),(9.641,2.77),
    (9.66,2.73),(9.674,2.7),(9.688,2.77),(9.712,2.73),(9.745,2.75),(9.759,2.66),(9.774,2.55),(9.802,2.45),(9.835,2.34),(9.859,2.25),
    (9.878,2.21),(9.892,2.23),(9.906,2.02),(9.92,2.03),(9.935,2.07),(9.944,2.18),(9.958,2.11),(9.977,1.86),(9.991,2.05),(10.008,2.46),
    (10.025,2.61),(10.039,2.71),(10.056,2.7),
    (10.061,2.62),(10.067,2.52),(10.081,2.52),(10.1,2.46),(10.107,2.39),(10.12,2.75),(10.133,2.66),(10.159,2.55),(10.179,2.62),(10.196,2.77),
    (10.218,2.77),(10.244,2.71),(10.271,2.61),(10.29,2.73),(10.31,2.86),(10.33,2.87),(10.349,3.02),(10.362,3.05),(10.389,2.94),(10.402,3.0),
    (10.421,3.1),(10.441,3.1),(10.461,3.23),(10.487,3.44),(10.513,3.37),(10.539,3.66),(10.566,3.67),(10.585,3.75),(10.598,3.62),(10.618,3.48),
    (10.638,3.42),(10.664,3.58),(10.69,3.51),(10.71,3.41),(10.736,3.44),(10.762,3.48),(10.788,3.39),(10.815,3.35),(10.841,3.34),(10.86,3.3),
    (10.88,3.19),(10.9,3.09),(10.913,3.02),(10.926,2.94),(10.946,2.77),(10.965,2.55),(10.985,2.45),(11.005,2.39),(11.024,2.32),(11.031,2.34),
    (11.037,2.46),(11.057,3.05),(11.074,3.06),(11.09,2.87),(11.109,3.16),(11.129,2.94),(11.142,2.27),(11.159,1.88),(11.175,1.52),(11.188,1.98),
    (11.208,1.8),(11.227,1.38),(11.24,0.99),(11.249,-0.2),(11.27,nan),
    (11.503,1.66),(11.525,1.29),(11.542,1.48),(11.555,1.43),(11.575,0.2),(11.59,nan),
    (11.607,1.09),(11.627,1.24),(11.64,1.25),(11.66,2.13),(11.677,1.41),(11.693,1.95),(11.721,2.13),(11.758,1.16),(11.774,-0.2),(11.791,1.91),
    (11.808,0.68),(11.824,2.27),(11.857,3.0),(11.876,2.05),(11.889,0.17),(11.905,0.47),(11.922,2.66),(11.955,3.12),(11.992,2.84),(12.0,2.66)]
lwp_adiabatic = [(9.0,3.75),(9.009,3.67),(9.026,3.85),(9.04,3.87),(9.059,3.92),(9.078,3.88),(9.092,4.03),(9.111,4.05),(9.125,4.04),(9.158,4.11),
    (9.175,4.05),(9.191,4.07),(9.207,4.15),(9.224,4.12),(9.243,4.12),(9.258,4.09),(9.277,4.08),(9.291,4.11),(9.31,4.1),(9.324,4.15),
    (9.343,4.14),(9.357,4.11),(9.376,4.14),(9.39,4.42),(9.409,4.53),(9.423,4.37),(9.442,4.19),(9.456,4.13),(9.475,4.17),(9.49,4.53),
    (9.509,4.19),(9.526,4.44),(9.542,3.58),(9.561,4.17),(9.59,nan),(9.624,4.23),(9.641,4.21),(9.674,4.21),(9.693,3.48),(9.707,2.98),
    (9.724,1.34),(9.745,1.34),(9.759,1.7),(9.774,2.57),(9.793,2.57),(9.807,2.66),(9.821,2.68),(9.84,2.68),(9.859,2.75),(9.876,3.09),
    (9.892,2.86),(9.909,2.41),(9.925,2.64),(9.939,2.66),(9.958,2.8),(9.974,2.77),(9.991,4.51),(10.008,3.37),(10.025,3.39),(10.039,3.19),
    (10.056,3.09),(10.074,3.21),(10.087,3.05),(10.107,3.32),(10.126,3.35),(10.159,3.25),(10.192,3.39),(10.209,3.05),(10.238,3.23),(10.264,3.12),
    (10.29,3.14),(10.31,3.19),(10.336,3.07),(10.375,3.39),(10.402,3.34),(10.434,3.21),(10.461,3.32),(10.491,3.51),(10.513,3.32),(10.542,3.8),
    (10.576,3.53),(10.592,3.62),(10.618,3.37),(10.644,3.28),(10.683,3.55),(10.71,3.35),(10.736,3.28),(10.756,3.05),(10.775,2.59),(10.795,2.71),
    (10.808,2.62),(10.825,1.56),(10.841,1.77),(10.86,1.56),(10.891,2.09),(10.909,1.8),(10.946,1.68),(10.972,1.66),(10.998,1.7),(11.011,1.66),
    (11.024,1.77),(11.04,3.94),(11.057,3.76),(11.09,3.98),(11.103,3.87),(11.123,3.62),(11.14,3.76),(11.155,2.66),(11.175,2.09),(11.195,1.77),
    (11.214,1.45),(11.225,1.31),(11.234,1.73),(11.247,2.27),(11.257,2.55),(11.28,2.57),(11.3,2.53),(11.313,2.57),(11.4,nan),
    (11.507,1.88),(11.525,1.27),(11.542,1.73),(11.555,2.45),(11.575,1.15),(11.59,nan),
    (11.607,1.63),(11.624,2.13),(11.643,2.09),(11.66,2.48),(11.675,1.41),(11.693,2.48),(11.708,1.41),(11.726,2.75),(11.739,2.66),(11.758,2.34),
    (11.791,3.03),(11.81,2.2),(11.824,2.27),(11.843,3.34),(11.857,3.5),(11.876,2.98),(11.892,1.73),(11.922,3.48),(11.941,3.34),(11.961,3.32),
    (11.98,2.77),(12.0,2.87)]
# uncertainty bands (hour, low, high)
lwp_phy_band = [(9.445,3.22,3.22),(9.456,2.82,3.39),(9.466,3.19,3.19),(9.47,nan,nan),
    (9.917,1.85,2.2),(9.935,1.95,2.25),(9.958,2.0,2.3),(9.977,1.6,2.05),(9.991,1.85,2.2),(10.008,2.35,2.55),(10.02,nan,nan),
    (11.185,1.2,2.0),(11.2,0.6,1.95),(11.22,-0.1,1.8),(11.24,-0.1,1.55),(11.26,-0.1,1.5),(11.27,nan,nan),
    (11.295,-0.1,1.6),(11.3,-0.1,1.65),(11.31,-0.1,1.6),(11.32,nan,nan),
    (11.503,-0.1,1.95),(11.525,-0.1,1.8),(11.545,-0.1,1.75),(11.56,-0.1,1.7),(11.578,-0.1,1.5),(11.59,nan,nan),
    (11.6,-0.1,1.3),(11.62,-0.1,1.45),(11.647,-0.1,1.5),(11.655,nan,nan),
    (11.745,-0.1,2.0),(11.77,-0.1,1.98),(11.79,-0.1,2.0),(11.81,-0.1,1.9),(11.82,nan,nan),
    (11.883,-0.1,1.5),(11.895,-0.1,1.4),(11.913,-0.1,1.2)]
lwp_adiabatic_band = [(9.7,2.9,3.1),(9.715,2.0,2.7),(9.724,0.75,1.75),(9.745,0.75,1.8),(9.759,1.3,2.1),(9.77,2.4,2.7),(9.8,nan,nan),
    (10.808,2.55,2.7),(10.825,1.25,1.95),(10.841,1.5,2.0),(10.86,1.2,1.85),(10.891,1.7,2.35),(10.909,1.5,2.05),(10.946,1.35,1.9),
    (10.972,1.38,1.9),(10.998,1.42,1.9),(11.024,1.45,1.95),(11.035,1.8,2.5)]
lwp_flag_x = [(11.308, 1.06, 2.53)]   # hour, Phy-Iter, adiabatic at the isolated retrieval
cloud_flags = [(9.0,9.583),(9.616,9.917),(10.133,10.164),(10.199,10.233),(10.298,11.033),(11.099,11.183),(11.95,12.0)]
gray_flags = [(9.717,9.75),(11.216,11.233),(11.3,11.317),(11.548,11.617),(11.682,11.715)]

# ---------------- panel 5: DQ flag, runs of minutes after 09:00 (first, last)
dq_runs = {
    11: [(0,33),(37,54),(68,69),(72,73),(78,121),(126,130),(177,179)],
    10: [(0,34),(38,41),(68,69),(72,73),(78,101),(104,106),(177,177)],
    9: [(0,1),(11,23),(25,31),(39,40),(83,83),(85,85),(92,97),(100,101),(126,126),(177,177)],
    7: [(0,13),(15,18),(20,20),(22,47),(89,119),(149,149)],
    6: [(0,46),(62,62),(72,72),(84,117),(123,124),(126,127),(149,149),(166,166),(170,171),(176,178)],
    4: [(43,44),(133,133),(138,138),(153,156),(161,162)],
    0: [(55,61),(63,67),(70,71),(74,77),(122,122),(125,125),(131,132),(134,137),(139,148),(150,152),
        (157,160),(163,165),(167,169),(172,175),(180,180)],
}

# ---------------- styling
C_2C = '#0000FF'
C_3C = '#ADD8E6'
C_PHY = '#FF8C00'
C_ADI = '#800080'
AXBLUE = '#0072BD'
DARK = '#262626'


def xy(pairs):
    a = np.array(pairs, dtype=float)
    return a[:, 0], a[:, 1]


def spans(ax, windows, color, alpha=0.5, below=True):
    for t0, t1 in windows:
        ax.axvspan(t0, t1, ymin=-0.009 if below else 0, ymax=1, color=color, alpha=alpha,
                   lw=0, zorder=3, clip_on=False)


def style(ax, ylim, yticks, ylabel, ylab_x):
    ax.set_xlim(9, 12)
    ax.set_ylim(*ylim)
    ax.set_xticks(xticks)
    ax.set_xticklabels(xticklabels)
    ax.set_yticks(yticks)
    ax.set_yticklabels(['%g' % v for v in yticks])
    ax.spines['top'].set_visible(False)
    ax.spines['left'].set_color(AXBLUE)
    ax.spines['left'].set_linewidth(0.8)
    ax.spines['right'].set_color('#6CA6D9')
    ax.spines['right'].set_linewidth(0.7)
    ax.spines['bottom'].set_color(DARK)
    ax.spines['bottom'].set_linewidth(0.7)
    ax.tick_params(axis='x', direction='in', length=6.7, width=0.6, color=DARK,
                   labelcolor=DARK, labelsize=9, pad=8.5)
    ax.tick_params(axis='y', direction='in', length=6, width=0.6, color=AXBLUE,
                   labelcolor=AXBLUE, labelsize=9, pad=7)
    ax.set_xlabel(xlabel_text, fontsize=11, color=DARK)
    ax.xaxis.set_label_coords(0.5, -0.105)
    ax.set_ylabel(ylabel, fontsize=11, color=AXBLUE)
    ax.yaxis.set_label_coords(ylab_x, 0.5)


def legend(ax, handles, labels, x, y):
    return ax.legend(handles, labels, loc='upper left', bbox_to_anchor=(x, y), frameon=False,
                     borderaxespad=0, borderpad=0, handlelength=5.9, handletextpad=0.65,
                     labelspacing=0.33, fontsize=9.5)


fig = plt.figure(figsize=(12.75, 20), dpi=300)
L, W, H = 0.0982, 0.6871, 0.1511
bottoms = [0.7996, 0.6120, 0.4246, 0.2371, 0.0495]
axes = [fig.add_axes([L, b, W, H]) for b in bottoms]

# panel 1
ax = axes[0]
l2, = ax.plot(*xy(bt23_2c), color=C_2C, lw=0.9, zorder=2)
l3, = ax.plot(*xy(bt23_3c), color=C_3C, lw=1.1, zorder=2)
lp, = ax.plot(*xy(bt23_phy), color=C_PHY, lw=1.8, zorder=2)
spans(ax, wet_windows, 'tan')
style(ax, (19, 195), list(range(20, 181, 20)), 'Zenith BT 23 GHz, K', -0.0531)
legend(ax, [l2, l3, lp], ['MWR 2C (tan = wet window)', 'MWR 3C', 'Phy-Iter'], 0.595, 0.591)

# panel 2
ax = axes[1]
l2, = ax.plot(*xy(bt31_2c), color=C_2C, lw=0.9, zorder=2)
l3, = ax.plot(*xy(bt31_3c), color=C_3C, lw=1.1, zorder=2)
lp, = ax.plot(*xy(bt31_phy), color=C_PHY, lw=1.8, zorder=2)
spans(ax, rain_flags, 'tan')
style(ax, (7, 219), list(range(20, 201, 20)), 'Zenith BT 31 GHz, K', -0.0531)
legend(ax, [l2, l3, lp], ['MWR2C', 'MWR 3C (tan = rain flag)', 'Phy-Iter'], 0.607, 0.59)

# panel 3
ax = axes[2]
l2, = ax.plot(*xy(pwv_2c), color=C_2C, lw=1.0, zorder=2)
l3, = ax.plot(*xy(pwv_3c), color=C_3C, lw=1.1, zorder=2)
band = np.array(pwv_phy_band, dtype=float)
ax.fill_between(band[:, 0], band[:, 1], band[:, 2], color=C_PHY, alpha=0.2, lw=0, zorder=1.5)
lp, = ax.plot(*xy(pwv_phy), color=C_PHY, lw=2.0, zorder=2)
spans(ax, pwv_2c_only, 'tan')
spans(ax, pwv_3c_only, 'brown')
style(ax, (1.1, 4.36), [1.5, 2, 2.5, 3, 3.5, 4], 'Precip. Water Vapor, mm', -0.0467)
blank = Line2D([], [], color='none')
legend(ax, [l2, l3, blank, lp, blank],
       ['MWR 2C PWV', 'MWR 3C PWV', 'Phy-Iter PWV', '(tan = MWR 2C only)', '(brown = MWR 3C only)'],
       0.697, 0.90)

# panel 4
ax = axes[3]
band = np.array(lwp_phy_band, dtype=float)
ax.fill_between(band[:, 0], band[:, 1], band[:, 2], color=C_PHY, alpha=0.2, lw=0, zorder=1.5)
band = np.array(lwp_adiabatic_band, dtype=float)
ax.fill_between(band[:, 0], band[:, 1], band[:, 2], color=C_ADI, alpha=0.2, lw=0, zorder=1.5)
l2, = ax.plot(*xy(lwp_2c), color=C_2C, lw=1.0, zorder=2)
l3, = ax.plot(*xy(lwp_3c), color=C_3C, lw=1.0, zorder=2)
lp, = ax.plot(*xy(lwp_phy), color=C_PHY, lw=2.0, zorder=2)
la, = ax.plot(*xy(lwp_adiabatic), color=C_ADI, lw=1.0, zorder=2)
for t, v_phy, v_adi in lwp_flag_x:
    ax.plot([t], [v_phy], marker='x', ms=4, mew=1.5, color=C_PHY, zorder=2)
    ax.plot([t], [v_adi], marker='x', ms=4, mew=1.5, color=C_ADI, zorder=2)
spans(ax, gray_flags, 'lightgray')
spans(ax, cloud_flags, 'cyan', below=False)
style(ax, (-0.1, 4.5), [0, 0.5, 1, 1.5, 2, 2.5, 3, 3.5, 4, 4.5],
      'log10 Liquid Water Path, log10(g/m$^2$)', -0.0451)
legend(ax, [l2, l3, lp, la], ['MWR 2C LWP', 'MWR 3C LWP', 'Phy-Iter LWP', 'Adiabatic LWP'], 0.399, 0.2886)

# panel 5
ax = axes[4]
for flag, runs in dq_runs.items():
    minutes = np.concatenate([np.arange(a, b + 1) for a, b in runs])
    ax.plot(9 + (minutes + 0.4) / 60.0, np.full(minutes.shape, flag), 'o', color=C_PHY,
            ms=2.1, mew=0, clip_on=False, zorder=2)
style(ax, (-0.5, 11.5), [0, 2, 4, 6, 8, 10], 'MWR Phy Iter DQ Flag', -0.042)

fig.savefig('out.png', dpi=300)
